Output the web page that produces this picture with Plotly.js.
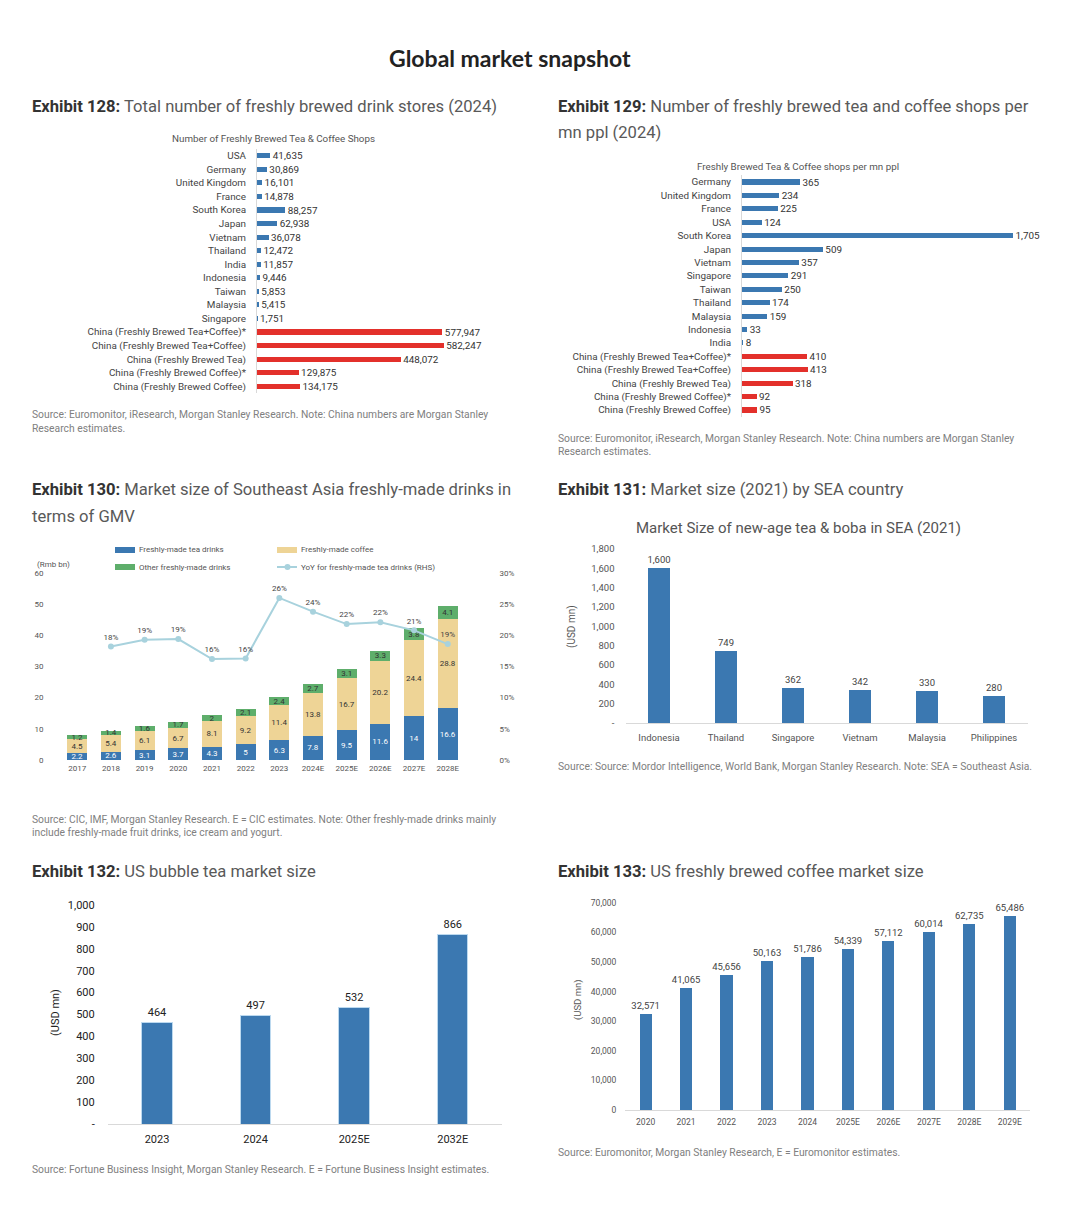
<!DOCTYPE html>
<html>
<head>
<meta charset="utf-8">
<script src="https://cdn.plot.ly/plotly-3.0.1.min.js"></script>
<style>html,body{margin:0;padding:0;background:#fff;}#chart{width:1080px;height:1213px;}</style>
</head>
<body>
<div id="chart"></div>
<script>
// ---------- DATA ----------
const ex128Cats = ['USA','Germany','United Kingdom','France','South Korea','Japan','Vietnam','Thailand','India','Indonesia','Taiwan','Malaysia','Singapore','China (Freshly Brewed Tea+Coffee)*','China (Freshly Brewed Tea+Coffee)','China (Freshly Brewed Tea)','China (Freshly Brewed Coffee)*','China (Freshly Brewed Coffee)'];
const ex128Stores = [41635,30869,16101,14878,88257,62938,36078,12472,11857,9446,5853,5415,1751,577947,582247,448072,129875,134175];

const ex129Cats = ['Germany','United Kingdom','France','USA','South Korea','Japan','Vietnam','Singapore','Taiwan','Thailand','Malaysia','Indonesia','India','China (Freshly Brewed Tea+Coffee)*','China (Freshly Brewed Tea+Coffee)','China (Freshly Brewed Tea)','China (Freshly Brewed Coffee)*','China (Freshly Brewed Coffee)'];
const ex129PerMn = [365,234,225,124,1705,509,357,291,250,174,159,33,8,410,413,318,92,95];

const ex130Years = ['2017','2018','2019','2020','2021','2022','2023','2024E','2025E','2026E','2027E','2028E'];
const ex130Tea = [2.2,2.6,3.1,3.7,4.3,5,6.3,7.8,9.5,11.6,14,16.6];
const ex130Coffee = [4.5,5.4,6.1,6.7,8.1,9.2,11.4,13.8,16.7,20.2,24.4,28.8];
const ex130Other = [1.2,1.4,1.6,1.7,2,2.1,2.4,2.7,3.1,3.3,3.8,4.1];
const ex130YoY = [null,0.182,0.193,0.194,0.162,0.163,0.26,0.238,0.218,0.221,0.208,0.186];
const ex130SeriesNames = ['Freshly-made tea drinks','Freshly-made coffee','Other freshly-made drinks','YoY for freshly-made tea drinks (RHS)'];

const ex131Countries = ['Indonesia','Thailand','Singapore','Vietnam','Malaysia','Philippines'];
const ex131Size = [1600,749,362,342,330,280];
const ex131TickVals = [0,200,400,600,800,1000,1200,1400,1600,1800];
const ex131TickText = ['-','200','400','600','800','1,000','1,200','1,400','1,600','1,800'];

const ex132Years = ['2023','2024','2025E','2032E'];
const ex132Size = [464,497,532,866];
const ex132TickVals = [0,100,200,300,400,500,600,700,800,900,1000];
const ex132TickText = ['-','100','200','300','400','500','600','700','800','900','1,000'];

const ex133Years = ['2020','2021','2022','2023','2024','2025E','2026E','2027E','2028E','2029E'];
const ex133Size = [32571,41065,45656,50163,51786,54339,57112,60014,62735,65486];

// ---------- HELPERS ----------
const W = 1080, H = 1213;
const hd = (a,b) => [a/W, b/W];
const vd = (top,bottom) => [1-bottom/H, 1-top/H];
const px = x => x/W, py = y => 1-y/H;

const BLUE = '#3B78B1', RED = '#E3302B', BEIGE = '#EED496', GREEN = '#5EAE6B', LINE = '#A8D2DD';
const CF = 'Roboto, Arial, sans-serif';

const traces = [];

// Exhibit 128
traces.push({
  type:'bar', orientation:'h', x: ex128Stores, y: ex128Cats, xaxis:'x', yaxis:'y',
  marker:{color: ex128Cats.map(c => c.startsWith('China') ? RED : BLUE)},
  width:0.38, texttemplate:'\u00a0%{x:,}', textposition:'outside', cliponaxis:false, constraintext:'none',
  textfont:{family:CF,size:9.9,color:'#333'}, showlegend:false
});
// Exhibit 129
traces.push({
  type:'bar', orientation:'h', x: ex129PerMn, y: ex129Cats, xaxis:'x2', yaxis:'y2',
  marker:{color: ex129Cats.map(c => c.startsWith('China') ? RED : BLUE)},
  width:0.38, texttemplate:'\u00a0%{x:,}', textposition:'outside', cliponaxis:false, constraintext:'none',
  textfont:{family:CF,size:9.9,color:'#333'}, showlegend:false
});
// Exhibit 130
const stk = [[ex130Tea, BLUE, '#fff'], [ex130Coffee, BEIGE, '#333'], [ex130Other, GREEN, '#333']];
stk.forEach((s,i) => traces.push({
  type:'bar', x: ex130Years, y: s[0], name: ex130SeriesNames[i], xaxis:'x3', yaxis:'y3',
  marker:{color:s[1]}, width:0.6, text: s[0].map(String), textposition:'inside',
  insidetextanchor:'middle', constraintext:'none', textangle:0,
  textfont:{family:CF,size:8,color:s[2]}, showlegend:false
}));
traces.push({
  type:'scatter', mode:'lines+markers+text', x: ex130Years, y: ex130YoY, xaxis:'x3', yaxis:'y4',
  name: ex130SeriesNames[3], line:{color:LINE,width:2}, marker:{color:LINE,size:6},
  texttemplate:'%{y:.0%}', textposition:'top center', cliponaxis:false,
  textfont:{family:CF,size:8,color:'#444'}, showlegend:false, connectgaps:false
});
// Exhibit 131
traces.push({
  type:'bar', x: ex131Countries, y: ex131Size, xaxis:'x5', yaxis:'y5',
  marker:{color:BLUE}, width:0.32, texttemplate:'%{y:,}', textposition:'outside', cliponaxis:false, constraintext:'none',
  textfont:{family:CF,size:9.5,color:'#444'}, showlegend:false
});
// Exhibit 132
traces.push({
  type:'bar', x: ex132Years, y: ex132Size, xaxis:'x6', yaxis:'y6',
  marker:{color:BLUE, line:{color:'#bcd9ef',width:1}}, width:0.31, texttemplate:'%{y:,}', textposition:'outside', cliponaxis:false, constraintext:'none',
  textfont:{family:CF,size:11,color:'#222'}, showlegend:false
});
// Exhibit 133
traces.push({
  type:'bar', x: ex133Years, y: ex133Size, xaxis:'x7', yaxis:'y7',
  marker:{color:BLUE}, width:0.3, texttemplate:'%{y:,}', textposition:'outside', cliponaxis:false, constraintext:'none',
  textfont:{family:CF,size:9.5,color:'#444'}, showlegend:false
});

const hidden = {visible:false, fixedrange:true};
const catY = (dom, standoff) => ({domain:dom, type:'category', autorange:'reversed', showgrid:false, zeroline:false,
  showline:true, linecolor:'#d9d9d9', linewidth:1, ticks:'', ticklabelstandoff:standoff,
  tickfont:{family:CF,size:9.9,color:'#444'}});

const layout = {
  width:W, height:H, margin:{l:0,r:0,t:0,b:0}, paper_bgcolor:'#fff', plot_bgcolor:'rgba(0,0,0,0)',
  showlegend:false, barmode:'stack', bargap:0.4,
  font:{family:CF},
  // 128
  xaxis:Object.assign({domain:hd(257,520), range:[0,820000], anchor:'y'}, hidden),
  yaxis:Object.assign(catY(vd(149,393),8), {anchor:'x'}),
  // 129
  xaxis2:Object.assign({domain:hd(742,1040), range:[0,1875], anchor:'y2'}, hidden),
  yaxis2:Object.assign(catY(vd(175.3,416.7),8), {anchor:'x2'}),
  // 130
  xaxis3:{domain:hd(52.5,472.5), anchor:'y3', type:'category', showgrid:false, zeroline:false, showline:false, ticks:'',
    tickfont:{family:CF,size:8,color:'#555'}, ticklabelstandoff:2},
  yaxis3:{domain:vd(573,760), anchor:'x3', range:[0,60], dtick:10, showgrid:false, zeroline:false, showline:false, ticks:'',
    tickfont:{family:CF,size:8,color:'#555'}, ticklabelstandoff:8},
  yaxis4:{overlaying:'y3', side:'right', anchor:'x3', range:[0,0.3], dtick:0.05, tickformat:'.0%', showgrid:false, zeroline:false,
    showline:false, ticks:'', tickfont:{family:CF,size:8,color:'#555'}, ticklabelstandoff:26},
  // 131
  xaxis5:{domain:hd(625.5,1027.5), anchor:'y5', type:'category', showgrid:false, zeroline:false, showline:true, linecolor:'#d9d9d9',
    ticks:'', tickfont:{family:CF,size:9.5,color:'#555'}, ticklabelstandoff:6},
  yaxis5:{domain:vd(549,723), anchor:'x5', range:[0,1800], tickvals:ex131TickVals, ticktext:ex131TickText, showgrid:false,
    zeroline:false, showline:false, ticks:'', tickfont:{family:CF,size:9.5,color:'#555'}, ticklabelstandoff:10},
  // 132
  xaxis6:{domain:hd(107.7,502), anchor:'y6', type:'category', showgrid:false, zeroline:false, showline:true, linecolor:'#d9d9d9',
    ticks:'', tickfont:{family:CF,size:11,color:'#222'}, ticklabelstandoff:5},
  yaxis6:{domain:vd(905,1124), anchor:'x6', range:[0,1000], tickvals:ex132TickVals, ticktext:ex132TickText, showgrid:false,
    zeroline:false, showline:false, ticks:'', tickfont:{family:CF,size:11,color:'#222'}, ticklabelstandoff:12},
  // 133
  xaxis7:{domain:hd(625.4,1030), anchor:'y7', type:'category', showgrid:false, zeroline:false, showline:true, linecolor:'#d9d9d9',
    ticks:'', tickfont:{family:CF,size:8.5,color:'#555'}, ticklabelstandoff:4},
  yaxis7:{domain:vd(902.7,1110), anchor:'x7', range:[0,70000], dtick:10000, tickformat:',', showgrid:false,
    zeroline:false, showline:false, ticks:'', tickfont:{family:CF,size:8.5,color:'#555'}, ticklabelstandoff:8},
  annotations:[], shapes:[]
};

const A = layout.annotations, S = layout.shapes;
function txt(x,y,text,opt){ A.push(Object.assign({xref:'paper',yref:'paper',x:px(x),y:py(y),text:text,showarrow:false,
  xanchor:'left',yanchor:'middle',font:{family:CF,size:10,color:'#777'}}, opt||{})); }
const exTitle = (n,t) => '<span style="color:#333"><b>Exhibit '+n+':</b></span> '+t;
const TF = {family:CF,size:16.6,color:'#595959'};

txt(510,58,'<b>Global market snapshot</b>',{xanchor:'center',font:{family:'Lato, "Open Sans", sans-serif',size:23,color:'#222'}});
txt(30,106,exTitle(128,'Total number of freshly brewed drink stores (2024)'),{font:TF});
txt(556,106,exTitle(129,'Number of freshly brewed tea and coffee shops per'),{font:TF});
txt(556,133,'mn ppl (2024)',{font:TF});
txt(30,489,exTitle(130,'Market size of Southeast Asia freshly-made drinks in'),{font:TF});
txt(30,516,'terms of GMV',{font:TF});
txt(556,489,exTitle(131,'Market size (2021) by SEA country'),{font:TF});
txt(30,871,exTitle(132,'US bubble tea market size'),{font:TF});
txt(556,871,exTitle(133,'US freshly brewed coffee market size'),{font:TF});

const SF = {family:CF,size:10.3,color:'#808080'};
txt(30,414,'Source: Euromonitor, iResearch, Morgan Stanley Research. Note: China numbers are Morgan Stanley',{font:SF});
txt(30,428,'Research estimates.',{font:SF});
txt(556,438,'Source: Euromonitor, iResearch, Morgan Stanley Research. Note: China numbers are Morgan Stanley',{font:SF});
txt(556,451,'Research estimates.',{font:SF});
txt(30,819,'Source: CIC, IMF, Morgan Stanley Research. E = CIC estimates. Note: Other freshly-made drinks mainly',{font:SF});
txt(30,832,'include freshly-made fruit drinks, ice cream and yogurt.',{font:SF});
txt(556,766,'Source: Source: Mordor Intelligence, World Bank, Morgan Stanley Research. Note: SEA = Southeast Asia.',{font:SF});
txt(30,1169,'Source: Fortune Business Insight, Morgan Stanley Research. E = Fortune Business Insight estimates.',{font:SF});
txt(556,1152,'Source: Euromonitor, Morgan Stanley Research, E = Euromonitor estimates.',{font:SF});

// chart sub-titles
txt(273,138,'Number of Freshly Brewed Tea & Coffee Shops',{xanchor:'center',font:{family:CF,size:9.8,color:'#555'}});
txt(798,166,'Freshly Brewed Tea & Coffee shops per mn ppl',{xanchor:'center',font:{family:CF,size:9.8,color:'#555'}});
txt(798,528,'Market Size of new-age tea & boba in SEA (2021)',{xanchor:'center',font:{family:CF,size:15,color:'#555'}});

// axis labels
txt(35,564,'(Rmb bn)',{font:{family:CF,size:8,color:'#555'}});
txt(572,627,'(USD mn)',{xanchor:'center',textangle:-90,font:{family:CF,size:10,color:'#555'}});
txt(55,1013,'(USD mn)',{xanchor:'center',textangle:-90,font:{family:CF,size:11,color:'#222'}});
txt(578,1000,'(USD mn)',{xanchor:'center',textangle:-90,font:{family:CF,size:9.5,color:'#555'}});

// manual legend for Exhibit 130
const LF = {family:CF,size:8,color:'#555'};
function sw(x0,y,color){ S.push({type:'rect',xref:'paper',yref:'paper',x0:px(x0),x1:px(x0+20),y0:py(y+3),y1:py(y-3),fillcolor:color,line:{width:0}}); }
sw(115,550,BLUE); txt(137,550,ex130SeriesNames[0],{font:LF});
sw(277,550,BEIGE); txt(299,550,ex130SeriesNames[1],{font:LF});
sw(115,567,GREEN); txt(137,567,ex130SeriesNames[2],{font:LF});
S.push({type:'line',xref:'paper',yref:'paper',x0:px(277),x1:px(297),y0:py(567),y1:py(567),line:{color:LINE,width:2}});
S.push({type:'circle',xref:'paper',yref:'paper',x0:px(284.5),x1:px(290.5),y0:py(570),y1:py(564),fillcolor:LINE,line:{width:0}});
txt(299,567,ex130SeriesNames[3],{font:LF});

Plotly.newPlot('chart', traces, layout, {staticPlot:true, displayModeBar:false});
</script>
</body>
</html>
